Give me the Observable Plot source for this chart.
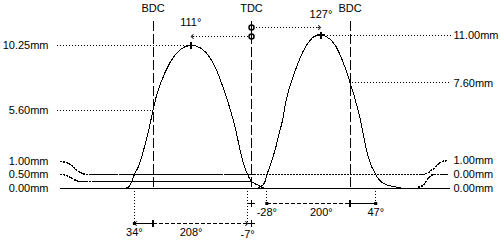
<!DOCTYPE html>
<html><head><meta charset="utf-8">
<script src="https://cdn.jsdelivr.net/npm/d3@7"></script>
<script src="https://cdn.jsdelivr.net/npm/@observablehq/plot@0.6"></script>
<style>
html,body{margin:0;padding:0;background:#fff;}
#chart svg{display:block;}
</style></head><body><div id="chart"></div>
<script>
// ---------- data ----------
// crank angle in degrees (TDC = 0, BDC = ±180) and valve lift in mm
const exhaustAngle = [-230, -223, -219, -214, -206.5, -201, -195.5, -188, -180, -173.6, -166.3, -157.2, -148, -139, -129.8, -120.6, -111, -102.3, -93.2, -84, -75, -65.8, -58.5, -51.2, -43.9, -38.4, -33, -27.4, -21.9, -16.4, -11, -7, -3.7, 0, 5.5, 12.8, 20, 23.8];
const exhaustLift  = [0, 0.14, 0.5, 1.0, 1.58, 2.22, 3.0, 4.16, 5.60, 6.67, 7.53, 8.39, 9.1, 9.6, 9.96, 10.18, 10.25, 10.22, 10.07, 9.79, 9.32, 8.67, 7.96, 7.17, 6.31, 5.6, 4.87, 3.94, 2.94, 2.0, 1.36, 1.0, 0.72, 0.5, 0.36, 0.22, 0.07, 0];
const intakeAngle  = [9.1, 16.4, 22, 25.6, 28, 33, 38.4, 43.9, 49.3, 56.7, 62, 69.4, 76.8, 84, 93.2, 102.3, 111.5, 118.8, 127, 135.2, 144.4, 153.5, 162.6, 171.8, 180, 186.4, 191.9, 197.4, 202.8, 208.3, 213.8, 219.3, 227, 232, 237.6, 244.9, 254, 263, 272, 276];
const intakeLift   = [0, 0.11, 0.29, 0.57, 1.0, 1.5, 2.15, 2.87, 3.73, 4.87, 6.09, 7.24, 8.1, 8.89, 9.75, 10.39, 10.82, 10.97, 11.0, 10.93, 10.68, 10.25, 9.53, 8.6, 7.6, 6.81, 6.02, 5.23, 4.16, 3.08, 2.22, 1.58, 1.0, 0.68, 0.47, 0.29, 0.18, 0.11, 0.04, 0];

const peakAngle  = [-111, 127];
const peakLift   = [10.25, 11.00];
const peakLabels = ["111°", "127°"];

const refAngles = [-180, 0, 180];
const refLabels = ["BDC", "TDC", "BDC"];

const openAngle   = [-214, 28];
const closeAngle  = [-7, 227];
const openLabels  = ["34°", "-28°"];
const closeLabels = ["-7°", "47°"];
const durationLabels = ["208°", "200°"];

const leftLevelLabels  = ["10.25mm", "5.60mm", "1.00mm", "0.50mm", "0.00mm"];
const leftLevelValues  = [10.25, 5.60, 1.00, 0.50, 0.00];
const rightLevelLabels = ["11.00mm", "7.60mm", "1.00mm", "0.00mm", "0.00mm"];
const rightLevelValues = [11.00, 7.60, 1.00, 0.00, 0.00];

// ---------- layout ----------
const W = 500, H = 240;
const TDC_PX = 251, BASE_PX = 188;
const PX_PER_DEG = 98.5 / 180, PX_PER_MM = 13.95;
const xAt = p => (p - TDC_PX) / PX_PER_DEG;   // pixel column -> angle
const yAt = p => (BASE_PX - p) / PX_PER_MM;   // pixel row -> lift
const pxd = p => p / PX_PER_DEG;
const pxm = p => p / PX_PER_MM;
const leftLabelDy  = [0, 0, -13, -7, 0];
const rightLabelDy = [0, 1, -14, -14, 0];
const peakArrowRow = [36, 27];
const peakLabelRow = [22, 14];
const dimRow = [223, 203];
const dimLabelRow = [232, 212];

const exhaust = exhaustAngle.map((a, i) => ({angle: a, lift: exhaustLift[i]}));
const intake  = intakeAngle.map((a, i) => ({angle: a, lift: intakeLift[i]}));
const peaks   = peakAngle.map((a, i) => ({angle: a, lift: peakLift[i], label: peakLabels[i], row: yAt(peakArrowRow[i]), lrow: yAt(peakLabelRow[i]), dir: Math.sign(a)}));
const leftLevels  = leftLevelValues.map((v, i) => ({v, label: leftLevelLabels[i], y: v - pxm(leftLabelDy[i])}));
const rightLevels = rightLevelValues.map((v, i) => ({v, label: rightLevelLabels[i], y: v - pxm(rightLabelDy[i])}));

const dot = "1,2";
const ink = "black";
const crisp = {shapeRendering: "crispEdges"};

const marks = [];
// baseline
marks.push(Plot.ruleY([0], {x1: xAt(60), x2: xAt(450), stroke: ink, ...crisp}));
// BDC / TDC dashed lines and labels
marks.push(Plot.ruleX(refAngles, {y1: yAt(21), y2: 0, stroke: ink, strokeDasharray: "10,3", ...crisp}));
marks.push(Plot.text(refLabels, {x: (d, i) => refAngles[i], y: yAt(8), text: d => d}));
// lift curves
marks.push(Plot.line(exhaust, {x: "angle", y: "lift", stroke: ink, strokeWidth: 1, ...crisp}));
marks.push(Plot.line(intake, {x: "angle", y: "lift", stroke: ink, strokeWidth: 1, ...crisp}));
// peak lift levels (dotted)
marks.push(Plot.link([0], {x1: xAt(56), x2: peakAngle[0], y1: peakLift[0], y2: peakLift[0], stroke: ink, strokeDasharray: dot, ...crisp}));
marks.push(Plot.link([0], {x1: xAt(56), x2: refAngles[0] - pxd(1), y1: leftLevelValues[1], y2: leftLevelValues[1], stroke: ink, strokeDasharray: dot, ...crisp}));
marks.push(Plot.link([0], {x1: peakAngle[1], x2: xAt(450), y1: peakLift[1], y2: peakLift[1], stroke: ink, strokeDasharray: dot, ...crisp}));
marks.push(Plot.link([0], {x1: refAngles[2] + pxd(2), x2: xAt(450), y1: rightLevelValues[1], y2: rightLevelValues[1], stroke: ink, strokeDasharray: dot, ...crisp}));
// check-height leaders
marks.push(Plot.line([
  {x: xAt(60), y: leftLevels[2].y}, {x: xAt(88), y: leftLevelValues[2]},
  {x: xAt(420), y: rightLevelValues[2]}, {x: xAt(448), y: rightLevels[2].y}
], {x: "x", y: "y", curve: "bump-x", stroke: ink, strokeDasharray: dot, ...crisp}));
marks.push(Plot.line([
  {x: xAt(60), y: leftLevels[3].y}, {x: xAt(82), y: leftLevelValues[3]}, {x: 0, y: leftLevelValues[3]}
], {x: "x", y: "y", curve: "bump-x", stroke: ink, strokeDasharray: dot, ...crisp}));
marks.push(Plot.line([
  {x: xAt(418), y: rightLevelValues[4] + pxm(1.5)}, {x: xAt(434), y: rightLevels[3].y}, {x: xAt(448), y: rightLevels[3].y}
], {x: "x", y: "y", curve: "bump-x", stroke: ink, strokeDasharray: dot, ...crisp}));
// level labels
marks.push(Plot.text(leftLevels, {x: xAt(48), y: "y", text: "label", textAnchor: "end"}));
marks.push(Plot.text(rightLevels, {x: xAt(453), y: "y", text: "label", textAnchor: "start"}));
// peak markers and centre-line arrows from TDC
marks.push(Plot.dot(peaks, {x: "angle", y: "lift", symbol: "plus", r: 2.4, stroke: ink, ...crisp}));
marks.push(Plot.dot(peaks, {x: 0, y: "row", symbol: "circle", r: 2.5, stroke: ink, fill: "none"}));
marks.push(Plot.ruleX([0], {y1: yAt(22), y2: yAt(40), stroke: ink, ...crisp}));
marks.push(Plot.link(peaks, {x1: d => d.dir * pxd(4), x2: d => d.angle - d.dir * pxd(3), y1: "row", y2: "row", stroke: ink, strokeDasharray: dot, ...crisp}));
marks.push(Plot.link(peaks, {x1: d => d.angle - d.dir * pxd(3.5), x2: d => d.angle - d.dir * pxd(1.5), y1: "row", y2: "row", stroke: ink, markerEnd: "arrow"}));
marks.push(Plot.text(peaks, {x: "angle", y: "lrow", text: "label"}));

// timing dimension lines
[0, 1].forEach(i => {
  const row = yAt(dimRow[i]);
  const o = openAngle[i], c = closeAngle[i];
  marks.push(Plot.ruleX([o, c], {y1: 0, y2: row, stroke: ink, strokeDasharray: dot, ...crisp}));
  if (i === 0) {
    marks.push(Plot.link([0], {x1: o, x2: refAngles[0], y1: row, y2: row, stroke: ink, ...crisp}));
    marks.push(Plot.link([0], {x1: refAngles[0], x2: c, y1: row, y2: row, stroke: ink, strokeDasharray: "4,2", ...crisp}));
    marks.push(Plot.link([0], {x1: c, x2: 0, y1: row, y2: row, stroke: ink, ...crisp}));
    marks.push(Plot.link([0], {x1: o + pxd(3), x2: o + pxd(1), y1: row, y2: row, stroke: ink, markerEnd: "arrow"}));
    marks.push(Plot.link([0], {x1: c - pxd(3), x2: c - pxd(1), y1: row, y2: row, stroke: ink, markerEnd: "arrow"}));
    marks.push(Plot.dot([o], {x: d => d, y: row, symbol: "square", r: 1.7, fill: ink}));
    marks.push(Plot.dot([refAngles[0], 0], {x: d => d, y: row, symbol: "plus", r: 2.4, stroke: ink, ...crisp}));
  } else {
    marks.push(Plot.link([0], {x1: o, x2: refAngles[2], y1: row, y2: row, stroke: ink, strokeDasharray: "4,2", ...crisp}));
    marks.push(Plot.link([0], {x1: refAngles[2], x2: c, y1: row, y2: row, stroke: ink, ...crisp}));
    marks.push(Plot.dot([o, c], {x: d => d, y: row, symbol: "square", r: 1.7, fill: ink}));
    marks.push(Plot.dot([0, refAngles[2]], {x: d => d, y: row, symbol: "plus", r: 2.4, stroke: ink, ...crisp}));
  }
  const lrow = yAt(dimLabelRow[i]);
  marks.push(Plot.text([openLabels[i]], {x: o, y: lrow, text: d => d}));
  marks.push(Plot.text([closeLabels[i]], {x: c, y: lrow + pxm(i === 0 ? -2 : 0), text: d => d}));
  marks.push(Plot.text([durationLabels[i]], {x: (o + c) / 2, y: lrow, text: d => d}));
});

const chart = Plot.plot({
  width: W, height: H, margin: 0,
  x: {domain: [xAt(0), xAt(W)], axis: null},
  y: {domain: [yAt(H), yAt(0)], axis: null},
  style: {fontFamily: "'Liberation Sans', Arial, sans-serif", fontSize: "11px", color: "black", background: "white", overflow: "visible"},
  marks
});
document.getElementById("chart").append(chart);
</script>
</body></html>
